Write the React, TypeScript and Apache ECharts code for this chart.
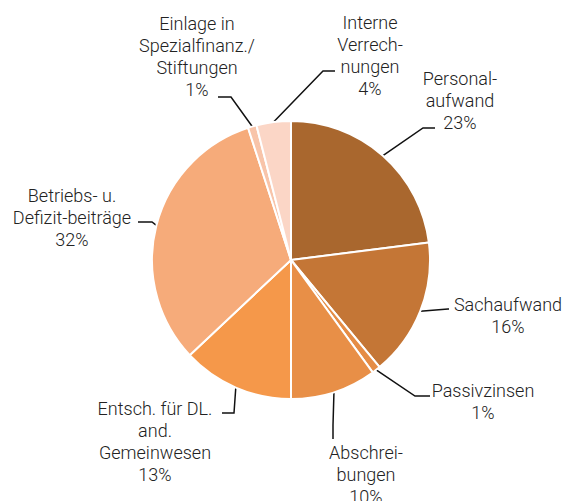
import React, { useEffect, useRef } from "react";
import * as echarts from "echarts";

const categories = [
  "Personal-\naufwand",
  "Sachaufwand",
  "Passivzinsen",
  "Abschrei-\nbungen",
  "Entsch. für DL.\nand.\nGemeinwesen",
  "Betriebs- u.\nDefizit-beiträge",
  "Einlage in\nSpezialfinanz./\nStiftungen",
  "Interne\nVerrech-\nnungen",
];
const shares = [23, 16, 1, 10, 13, 32, 1, 4];
const colors = [
  "#A9672E",
  "#C47636",
  "#E58C45",
  "#E88F47",
  "#F5984A",
  "#F6AB7A",
  "#F8C4A9",
  "#FBD6C6",
];

// label placement: text block (center x, top y), elbow point, end point of label line
const labelPlacement = [
  { x: 460, y: 67, elbow: [423, 128], end: [435, 128] },
  { x: 508, y: 293, elbow: [448, 309], end: [449, 309] },
  { x: 483, y: 379, elbow: [415, 396], end: [430, 396] },
  { x: 366, y: 441, elbow: [333, 425], end: [333, 439] },
  { x: 155, y: 397, elbow: [234, 413], end: [222, 413] },
  { x: 72, y: 184, elbow: [152, 222], end: [138, 222] },
  { x: 197, y: 12, elbow: [231, 97], end: [218, 97] },
  { x: 370, y: 11, elbow: [323, 71], end: [335, 71] },
];

export default function App() {
  const ref = useRef<HTMLDivElement>(null);
  useEffect(() => {
    if (!ref.current) return;
    const chart = echarts.init(ref.current, null, { renderer: "svg" });
    chart.setOption({
      animation: false,
      backgroundColor: "#ffffff",
      color: colors,
      series: [
        {
          type: "pie",
          center: [291, 260],
          radius: 139,
          startAngle: 90,
          clockwise: true,
          avoidLabelOverlap: false,
          itemStyle: { borderColor: "#ffffff", borderWidth: 2 },
          label: {
            show: true,
            formatter: (p: any) => `${p.name}\n${p.value}%`,
            fontFamily: "Roboto",
            fontWeight: 300,
            fontSize: 18,
            lineHeight: 22,
            color: "#222222",
            align: "center",
          },
          labelLine: {
            show: true,
            length: 20,
            length2: 10,
            lineStyle: { color: "#111111", width: 1.5 },
          },
          labelLayout: (params: any) => {
            const cfg = labelPlacement[params.dataIndex];
            const pts = params.labelLinePoints;
            const start = pts && pts[0] ? pts[0] : cfg.elbow;
            return {
              x: cfg.x,
              y: cfg.y,
              align: "center",
              verticalAlign: "top",
              labelLinePoints: [start, cfg.elbow, cfg.end],
            };
          },
          data: categories.map((c, i) => ({ name: c, value: shares[i] })),
        },
      ],
    });
    return () => chart.dispose();
  }, []);
  return (
    <div
      ref={ref}
      style={{ position: "fixed", left: 0, top: 0, width: 566, height: 501 }}
    />
  );
}
